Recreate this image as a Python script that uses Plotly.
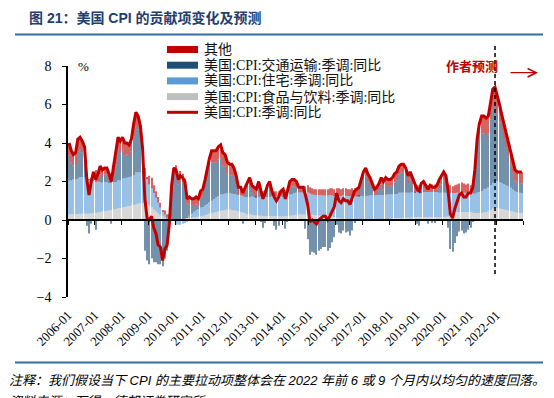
import pandas as pd
import plotly.graph_objects as go

# ---------------- data (monthly, 2006-01 .. 2022-12; 2022 = author's forecast) ----------------
cpi_yoy = [
    4.0, 3.6, 3.4, 3.5, 4.2, 4.3, 4.1, 3.8, 2.1, 1.3, 2.0, 2.5,      # 2006
    2.1, 2.4, 2.8, 2.6, 2.7, 2.7, 2.4, 2.0, 2.8, 3.5, 4.3, 4.1,      # 2007
    4.3, 4.0, 4.0, 3.9, 4.2, 5.0, 5.6, 5.4, 4.9, 3.7, 1.1, 0.1,      # 2008
    0.0, 0.2, -0.4, -0.7, -1.3, -1.4, -2.1, -1.5, -1.3, -0.2, 1.8, 2.7,  # 2009
    2.6, 2.1, 2.3, 2.2, 2.0, 1.1, 1.2, 1.1, 1.1, 1.2, 1.1, 1.5,      # 2010
    1.6, 2.1, 2.7, 3.2, 3.6, 3.6, 3.6, 3.8, 3.9, 3.5, 3.4, 3.0,      # 2011
    2.9, 2.9, 2.7, 2.3, 1.7, 1.7, 1.4, 1.7, 2.0, 2.2, 1.8, 1.7,      # 2012
    1.6, 2.0, 1.5, 1.1, 1.4, 1.8, 2.0, 1.5, 1.2, 1.0, 1.2, 1.5,      # 2013
    1.6, 1.1, 1.5, 2.0, 2.1, 2.1, 2.0, 1.7, 1.7, 1.7, 1.3, 0.8,      # 2014
    -0.1, 0.0, -0.1, -0.2, 0.0, 0.1, 0.2, 0.2, 0.0, 0.2, 0.5, 0.7,   # 2015
    1.4, 1.0, 0.9, 1.1, 1.0, 1.0, 0.8, 1.1, 1.5, 1.6, 1.7, 2.1,      # 2016
    2.5, 2.7, 2.4, 2.2, 1.9, 1.6, 1.7, 1.9, 2.2, 2.0, 2.2, 2.1,      # 2017
    2.1, 2.2, 2.4, 2.5, 2.8, 2.9, 2.9, 2.7, 2.3, 2.5, 2.2, 1.9,      # 2018
    1.6, 1.5, 1.9, 2.0, 1.8, 1.6, 1.8, 1.7, 1.7, 1.8, 2.1, 2.3,      # 2019
    2.5, 2.3, 1.5, 0.3, 0.1, 0.6, 1.0, 1.3, 1.4, 1.2, 1.2, 1.4,      # 2020
    1.4, 1.7, 2.6, 4.2, 5.0, 5.4, 5.4, 5.3, 5.4, 6.2, 6.8, 6.9,      # 2021
    6.5, 6.0, 5.5, 5.0, 4.5, 4.0, 3.5, 3.0, 2.6, 2.5, 2.5, 2.5,      # 2022 (forecast)
]

food_bev = [
    0.30, 0.30, 0.30, 0.31, 0.31, 0.32, 0.32, 0.33, 0.33, 0.34, 0.35, 0.35,
    0.38, 0.40, 0.42, 0.44, 0.46, 0.48, 0.50, 0.52, 0.55, 0.57, 0.60, 0.62,
    0.65, 0.67, 0.70, 0.73, 0.75, 0.78, 0.82, 0.85, 0.87, 0.88, 0.88, 0.85,
    0.75, 0.65, 0.55, 0.45, 0.35, 0.25, 0.18, 0.12, 0.08, 0.05, 0.05, 0.05,
    0.05, 0.05, 0.05, 0.07, 0.08, 0.10, 0.12, 0.12, 0.13, 0.15, 0.17, 0.20,
    0.22, 0.25, 0.28, 0.32, 0.35, 0.38, 0.42, 0.45, 0.48, 0.50, 0.52, 0.55,
    0.55, 0.52, 0.50, 0.48, 0.45, 0.42, 0.38, 0.35, 0.30, 0.28, 0.27, 0.25,
    0.23, 0.22, 0.22, 0.21, 0.20, 0.20, 0.20, 0.20, 0.20, 0.18, 0.18, 0.18,
    0.18, 0.19, 0.20, 0.22, 0.24, 0.25, 0.27, 0.28, 0.28, 0.28, 0.28, 0.28,
    0.28, 0.27, 0.26, 0.25, 0.24, 0.23, 0.22, 0.22, 0.22, 0.20, 0.18, 0.15,
    0.12, 0.10, 0.09, 0.08, 0.06, 0.05, 0.04, 0.03, 0.02, 0.01, 0.00, 0.00,
    0.00, 0.00, 0.01, 0.02, 0.03, 0.04, 0.05, 0.05, 0.05, 0.05, 0.06, 0.07,
    0.08, 0.09, 0.10, 0.10, 0.11, 0.11, 0.12, 0.12, 0.12, 0.12, 0.13, 0.14,
    0.14, 0.15, 0.15, 0.15, 0.16, 0.16, 0.16, 0.16, 0.16, 0.16, 0.16, 0.16,
    0.16, 0.17, 0.18, 0.25, 0.35, 0.40, 0.42, 0.42, 0.42, 0.42, 0.42, 0.40,
    0.40, 0.38, 0.36, 0.36, 0.36, 0.36, 0.40, 0.42, 0.45, 0.52, 0.58, 0.62,
    0.62, 0.60, 0.57, 0.55, 0.52, 0.50, 0.47, 0.44, 0.40, 0.38, 0.37, 0.36,
]

housing = [
    1.75, 1.75, 1.80, 1.80, 1.85, 1.90, 1.90, 1.90, 1.85, 1.75, 1.70, 1.70,
    1.60, 1.60, 1.55, 1.50, 1.50, 1.50, 1.45, 1.40, 1.40, 1.40, 1.45, 1.45,
    1.50, 1.50, 1.50, 1.50, 1.50, 1.55, 1.65, 1.65, 1.60, 1.50, 1.40, 1.30,
    1.10, 1.00, 0.85, 0.70, 0.55, 0.40, 0.25, 0.15, 0.05, 0.00, -0.05, -0.05,
    -0.25, -0.25, -0.25, -0.20, -0.15, -0.10, 0.10, 0.20, 0.30, 0.35, 0.40, 0.45,
    0.45, 0.50, 0.55, 0.60, 0.65, 0.70, 0.75, 0.80, 0.85, 0.85, 0.85, 0.85,
    0.85, 0.85, 0.85, 0.85, 0.85, 0.85, 0.85, 0.85, 0.90, 0.90, 0.95, 0.95,
    0.95, 0.95, 1.00, 1.00, 1.00, 1.00, 1.00, 1.05, 1.05, 1.05, 1.05, 1.05,
    1.05, 1.10, 1.10, 1.10, 1.10, 1.15, 1.15, 1.15, 1.15, 1.15, 1.15, 1.15,
    1.10, 1.05, 1.05, 1.05, 1.05, 1.05, 1.05, 1.05, 1.05, 1.10, 1.10, 1.10,
    1.15, 1.15, 1.15, 1.20, 1.20, 1.20, 1.20, 1.20, 1.20, 1.20, 1.20, 1.25,
    1.25, 1.25, 1.25, 1.25, 1.25, 1.25, 1.25, 1.25, 1.25, 1.25, 1.25, 1.25,
    1.25, 1.25, 1.25, 1.25, 1.30, 1.30, 1.30, 1.30, 1.30, 1.30, 1.30, 1.30,
    1.30, 1.30, 1.30, 1.30, 1.30, 1.30, 1.30, 1.30, 1.30, 1.30, 1.25, 1.25,
    1.25, 1.25, 1.20, 1.15, 1.05, 1.00, 1.00, 1.00, 1.00, 1.00, 1.00, 1.00,
    1.00, 1.00, 1.00, 1.05, 1.10, 1.15, 1.20, 1.20, 1.25, 1.30, 1.35, 1.40,
    1.40, 1.38, 1.35, 1.32, 1.28, 1.25, 1.20, 1.15, 1.10, 1.08, 1.05, 1.03,
]

transport = [
    1.30, 0.95, 0.75, 0.80, 1.40, 1.45, 1.30, 1.00, -0.30, -0.70, -0.20, 0.10,
    -0.50, 0.00, 0.40, 0.30, 0.40, 0.40, 0.10, -0.20, 0.40, 0.90, 1.60, 1.40,
    1.50, 1.20, 1.20, 1.10, 1.30, 2.00, 2.40, 2.20, 1.80, 0.70, -1.60, -2.10,
    -2.30, -2.00, -2.20, -2.20, -2.30, -2.30, -2.40, -2.00, -1.60, -0.50, 1.60, 2.40,
    2.25, 1.80, 2.00, 1.85, 1.55, 0.75, 0.60, 0.45, 0.30, 0.30, 0.15, 0.45,
    0.55, 0.90, 1.40, 1.80, 2.00, 1.90, 1.80, 1.90, 1.90, 1.50, 1.40, 1.00,
    0.90, 0.95, 0.85, 0.50, 0.00, 0.00, -0.20, 0.10, 0.40, 0.60, 0.20, 0.10,
    0.02, 0.40, -0.10, -0.40, -0.15, 0.20, 0.40, 0.00, -0.30, -0.50, -0.30, 0.00,
    0.07, -0.45, -0.10, 0.30, 0.40, 0.35, 0.25, 0.00, 0.00, -0.05, -0.45, -1.00,
    -1.80, -1.65, -1.70, -1.80, -1.60, -1.50, -1.40, -1.40, -1.60, -1.45, -1.15, -0.90,
    -0.25, -0.65, -0.70, -0.55, -0.65, -0.60, -0.80, -0.55, -0.15, -0.05, 0.05, 0.45,
    0.80, 1.00, 0.70, 0.50, 0.30, 0.00, 0.05, 0.25, 0.55, 0.30, 0.50, 0.40,
    0.40, 0.45, 0.60, 0.70, 0.95, 1.05, 1.05, 0.90, 0.50, 0.70, 0.40, 0.05,
    -0.20, -0.30, 0.05, 0.15, -0.05, -0.20, -0.05, -0.15, -0.15, -0.05, 0.25, 0.45,
    0.60, 0.40, -0.40, -1.50, -1.65, -1.20, -0.85, -0.60, -0.55, -0.70, -0.65, -0.50,
    -0.40, -0.10, 0.80, 2.20, 2.80, 3.00, 2.90, 2.80, 2.80, 3.40, 3.80, 3.90,
    3.50, 3.10, 2.70, 2.30, 1.95, 1.55, 1.20, 0.85, 0.55, 0.50, 0.50, 0.50,
]

other = [
    0.65, 0.60, 0.55, 0.59, 0.64, 0.63, 0.58, 0.57, 0.22, 0.01, 0.15, 0.35,
    0.62, 0.40, 0.43, 0.36, 0.34, 0.32, 0.35, 0.28, 0.45, 0.63, 0.65, 0.63,
    0.65, 0.63, 0.60, 0.57, 0.65, 0.67, 0.73, 0.70, 0.63, 0.62, 0.42, 0.05,
    0.45, 0.55, 0.40, 0.35, 0.30, 0.25, 0.05, 0.23, 0.17, 0.25, 0.20, 0.30,
    0.55, 0.50, 0.50, 0.48, 0.52, 0.35, 0.38, 0.33, 0.37, 0.40, 0.38, 0.40,
    0.38, 0.45, 0.47, 0.48, 0.60, 0.62, 0.63, 0.65, 0.67, 0.65, 0.63, 0.60,
    0.60, 0.58, 0.50, 0.47, 0.40, 0.43, 0.37, 0.40, 0.40, 0.42, 0.38, 0.40,
    0.40, 0.43, 0.38, 0.29, 0.35, 0.40, 0.40, 0.25, 0.25, 0.27, 0.27, 0.27,
    0.30, 0.26, 0.30, 0.38, 0.36, 0.35, 0.33, 0.27, 0.27, 0.32, 0.32, 0.37,
    0.32, 0.33, 0.29, 0.30, 0.31, 0.32, 0.33, 0.33, 0.33, 0.35, 0.37, 0.35,
    0.38, 0.40, 0.36, 0.37, 0.39, 0.35, 0.36, 0.42, 0.43, 0.44, 0.45, 0.40,
    0.45, 0.45, 0.44, 0.43, 0.32, 0.31, 0.35, 0.35, 0.35, 0.40, 0.39, 0.38,
    0.37, 0.41, 0.45, 0.45, 0.44, 0.44, 0.43, 0.38, 0.38, 0.38, 0.37, 0.41,
    0.36, 0.35, 0.40, 0.40, 0.39, 0.34, 0.39, 0.39, 0.39, 0.39, 0.44, 0.44,
    0.49, 0.48, 0.52, 0.40, 0.35, 0.40, 0.43, 0.48, 0.53, 0.48, 0.43, 0.50,
    0.40, 0.42, 0.44, 0.59, 0.74, 0.89, 0.90, 0.88, 0.90, 0.98, 1.07, 0.98,
    0.98, 0.92, 0.88, 0.83, 0.75, 0.70, 0.63, 0.56, 0.55, 0.54, 0.58, 0.61,
]

start_month = "2006-01"
end_month = "2022-12"
forecast_from = "2021-12"          # last actual observation (dashed line)
tick_labels = ["2006-01", "2007-01", "2008-01", "2009-01", "2010-01", "2011-01",
               "2012-01", "2013-01", "2014-01", "2015-01", "2016-01", "2017-01",
               "2018-01", "2019-01", "2020-01", "2021-01", "2022-01"]
y_ticks = [-4, -2, 0, 2, 4, 6, 8]

series_names = {
    "other": "其他",
    "transport": "美国:CPI:交通运输:季调:同比",
    "housing": "美国:CPI:住宅:季调:同比",
    "food": "美国:CPI:食品与饮料:季调:同比",
    "cpi": "美国:CPI:季调:同比",
}
colors = {"other": "#c00000", "transport": "#1f4e79", "housing": "#5b9bd5",
          "food": "#bfbfbf", "cpi": "#c00000"}

# ---------------- geometry helpers (layout only) ----------------
W, H = 554, 398
L, R, T, B = 68, 31, 66, 101
PW, PH = W - L - R, H - T - B


def px2x(px):
    return (px - L) / PW


def px2y(py):
    return (H - B - py) / PH


months = pd.date_range(start_month + "-01", end_month + "-01", freq="MS") + pd.Timedelta(days=14)
tick_vals = [pd.Timestamp(t + "-01") for t in tick_labels]
axis_end = pd.Timestamp(end_month + "-01") + pd.offsets.MonthBegin(1)
tick_vals_zero = tick_vals + [axis_end]
x_range = [pd.Timestamp(start_month + "-01"), axis_end]

fig = go.Figure()
for key, vals in [("food", food_bev), ("housing", housing),
                  ("transport", transport), ("other", other)]:
    fig.add_trace(go.Bar(x=months, y=vals, name=series_names[key],
                         marker=dict(color=colors[key], line=dict(width=0), opacity=0.62),
                         showlegend=False, xaxis="x", yaxis="y"))

fig.add_trace(go.Scatter(x=months, y=cpi_yoy, mode="lines", name=series_names["cpi"],
                         line=dict(color=colors["cpi"], width=3),
                         showlegend=False, xaxis="x2", yaxis="y"))

serif = "Liberation Serif, Noto Sans CJK SC"
sans = "Liberation Sans, Noto Sans CJK SC"

fig.update_layout(
    width=W, height=H,
    margin=dict(l=L, r=R, t=T, b=B, pad=0),
    paper_bgcolor="white", plot_bgcolor="white",
    barmode="relative", bargap=0.5,
    showlegend=False,
    xaxis=dict(type="date", range=x_range, tickvals=tick_vals, ticktext=tick_labels,
               tickangle=-45, ticks="", showline=False, showgrid=False, zeroline=False,
               tickfont=dict(family=serif, size=13, color="black"),
               ticklabelstandoff=7),
    xaxis2=dict(type="date", range=x_range, overlaying="x", anchor="free",
                position=(0 - y_ticks[0]) / (y_ticks[-1] - y_ticks[0]),
                tickvals=tick_vals_zero, showticklabels=False, ticks="outside",
                ticklen=4, tickwidth=1.2, tickcolor="black",
                showline=True, linecolor="black", linewidth=1.5, showgrid=False,
                zeroline=False),
    yaxis=dict(range=[y_ticks[0], y_ticks[-1]], tickvals=y_ticks, ticks="outside",
               ticklen=4, tickwidth=1.2, tickcolor="black",
               showline=True, linecolor="black", linewidth=1.5, showgrid=False,
               zeroline=False, tickfont=dict(family=serif, size=14, color="black"),
               ticklabelstandoff=8),
)

shapes = []
annotations = []

# title & rules
annotations.append(dict(text="图 21：美国 CPI 的贡献项变化及预测", xref="paper", yref="paper",
                        x=px2x(27), y=px2y(18), xanchor="left", yanchor="middle",
                        showarrow=False,
                        font=dict(family=sans, size=14, color="#1f3e6e", weight="bold")))
for py in (34.5, 362.5):
    shapes.append(dict(type="line", xref="paper", yref="paper",
                       x0=px2x(15), x1=px2x(543), y0=px2y(py), y1=px2y(py),
                       line=dict(color="#2f6ea5", width=2)))

# "%" unit
annotations.append(dict(text="%", xref="paper", yref="paper", x=px2x(76), y=px2y(67),
                        xanchor="left", yanchor="middle", showarrow=False,
                        font=dict(family=serif, size=13, color="black")))

# legend (manual, wide swatches)
legend_keys = ["other", "transport", "housing", "food", "cpi"]
for i, key in enumerate(legend_keys):
    cy = 49.5 + i * 15.7
    if key == "cpi":
        shapes.append(dict(type="line", xref="paper", yref="paper",
                           x0=px2x(167), x1=px2x(198), y0=px2y(cy), y1=px2y(cy),
                           line=dict(color=colors[key], width=3)))
    else:
        shapes.append(dict(type="rect", xref="paper", yref="paper",
                           x0=px2x(167), x1=px2x(198), y0=px2y(cy + 3.5), y1=px2y(cy - 3.5),
                           fillcolor=colors[key], line=dict(width=0)))
    annotations.append(dict(text=series_names[key], xref="paper", yref="paper",
                            x=px2x(202), y=px2y(cy), xanchor="left", yanchor="middle",
                            showarrow=False, font=dict(family=serif, size=14, color="#111111")))

# forecast divider
fc_x = pd.Timestamp(forecast_from + "-01") + pd.Timedelta(days=14)
shapes.append(dict(type="line", xref="x", yref="paper", x0=fc_x, x1=fc_x,
                   y0=px2y(274), y1=px2y(46),
                   line=dict(color="black", width=1.5, dash="4px,3px"), layer="above"))
annotations.append(dict(text="作者预测", xref="paper", yref="paper", x=px2x(472), y=px2y(65),
                        xanchor="center", yanchor="middle", showarrow=False,
                        font=dict(family="Noto Sans CJK SC", size=13, color="#c00000",
                                  weight="bold")))
annotations.append(dict(text="", xref="paper", yref="paper", x=px2x(538), y=px2y(72.7),
                        ax=-29, ay=0, showarrow=True, arrowhead=5, arrowsize=1.4,
                        arrowwidth=1.2, arrowcolor="#c00000", standoff=0, startstandoff=0))

# notes
annotations.append(dict(text="注释：我们假设当下 CPI 的主要拉动项整体会在 2022 年前 6 或 9 个月内以均匀的速度回落。",
                        xref="paper", yref="paper", x=px2x(7), y=px2y(380),
                        xanchor="left", yanchor="middle", showarrow=False,
                        font=dict(family=sans, size=13, color="black", style="italic")))
annotations.append(dict(text="资料来源：万得，德邦证券研究所",
                        xref="paper", yref="paper", x=px2x(7), y=px2y(401),
                        xanchor="left", yanchor="middle", showarrow=False,
                        font=dict(family=sans, size=13, color="black", style="italic")))

fig.update_layout(shapes=shapes, annotations=annotations)

fig.write_html("out.html", config={"displayModeBar": False},
               post_script="document.body.style.margin='0';")
